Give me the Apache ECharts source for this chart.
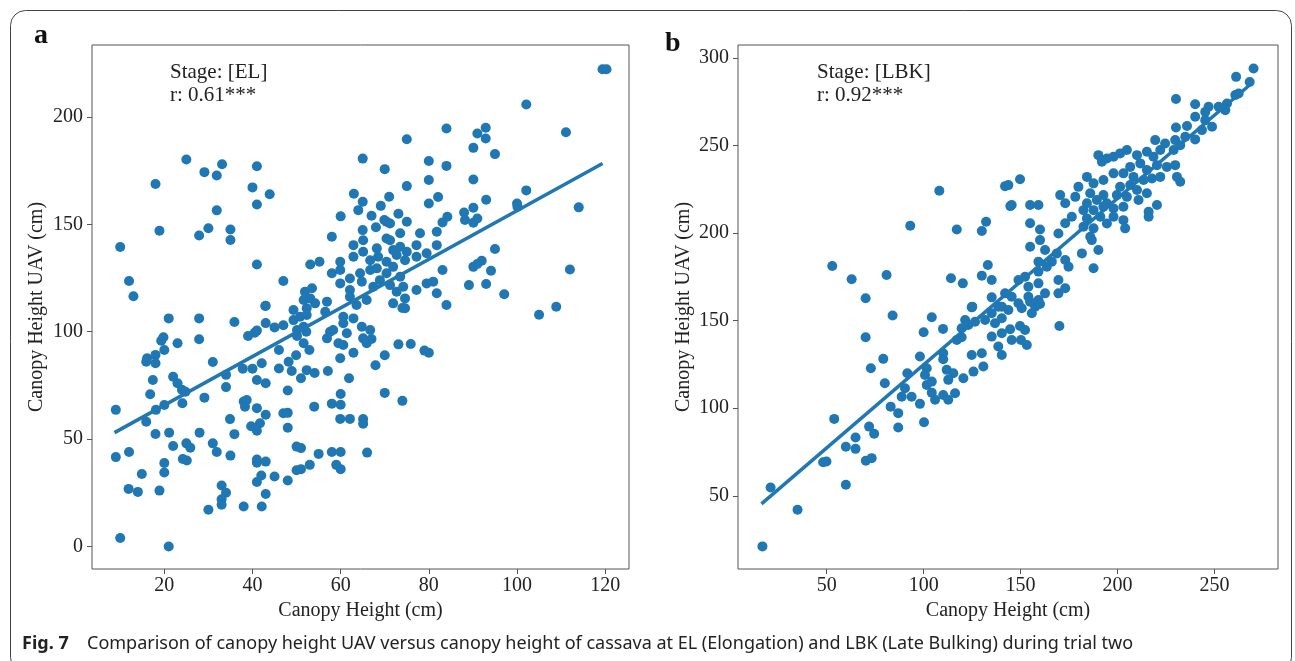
<!DOCTYPE html>
<html>
<head>
<meta charset="utf-8">
<script src="https://cdn.jsdelivr.net/npm/echarts@6.0.0/dist/echarts.min.js"></script>
<style>html,body{margin:0;padding:0;background:#fff}#c{width:1295px;height:661px}</style>
</head>
<body>
<div id="c"></div>
<script>
// ---- Data ----
const elPoints = [
[25.0,180.2],[29.1,174.3],[33.1,178.0],[31.9,172.7],[41.0,177.0],[18.0,168.8],[40.0,167.2],[43.9,164.0],[41.0,159.2],[31.9,156.5],[18.9,147.0],[27.9,144.8],[30.0,148.2],[35.0,147.6],[35.0,142.7],[10.0,139.4],[41.0,131.3],[12.0,123.6],[13.0,116.5],[47.0,123.6],[65.0,180.6],[63.0,164.2],[65.0,160.5],[64.0,156.6],[60.0,153.7],[43.0,112.1],
[119.4,222.2],[120.3,222.2],[102.1,205.8],[111.1,192.9],[84.0,194.6],[75.0,189.6],[91.0,192.3],[92.9,195.0],[92.9,190.0],[90.1,185.6],[95.0,182.7],[80.0,179.5],[84.0,177.2],[70.0,175.7],[80.0,170.6],[90.1,170.9],[75.0,167.8],[102.1,165.8],[71.0,162.8],[82.1,162.7],[80.0,159.7],[93.0,161.4],[100.0,159.7],[100.1,158.2],[114.0,157.9],[69.1,158.6],[73.1,154.9],[67.0,154.0],[69.9,152.0],[84.2,153.5],[83.1,150.9],[88.0,155.5],[90.1,157.7],[88.2,152.0],[90.1,150.7],[91.0,152.7],[95.0,138.5],[83.1,128.7],[90.1,130.2],[92.0,133.0],[91.0,131.5],[94.1,128.4],[112.0,129.0],[89.1,121.7],[93.0,122.2],[97.1,117.4],[84.0,112.4],[108.9,111.6],
[58.0,144.2],[53.1,131.3],[55.2,132.6],[65.0,147.3],[68.0,148.6],[70.4,151.2],[71.2,150.4],[73.5,145.8],[75.0,151.2],[78.0,145.8],[81.8,146.5],[62.9,140.3],[65.1,142.6],[68.2,138.8],[70.4,143.4],[71.2,142.6],[71.9,138.0],[73.5,139.5],[75.0,137.2],[77.2,140.3],[81.8,140.3],[59.9,132.6],[62.9,134.9],[65.1,137.2],[66.7,133.3],[68.5,134.9],[70.4,132.6],[72.7,135.7],[74.6,133.3],[77.2,134.9],[79.5,136.5],[58.0,127.2],[59.9,128.7],[62.1,124.8],[64.4,127.2],[66.7,128.7],[68.2,129.5],[70.4,127.2],[71.9,130.2],[73.5,125.6],[59.9,122.5],[62.1,119.4],[64.8,123.3],[67.4,120.9],[68.9,124.0],[71.2,121.7],[72.7,118.6],[74.2,120.9],[51.9,118.6],[53.5,120.2],[51.6,114.8],[53.1,115.5],[54.2,113.2],[52.3,110.9],[56.9,114.0],[56.5,109.3],[62.1,116.3],[63.6,112.4],[65.9,114.8],[71.9,113.2],[74.6,115.5],[74.6,110.9],[77.2,119.4],[79.5,122.5],[81.0,123.3],[81.8,117.9],[49.3,110.1],[50.8,107.0],[49.3,105.4],[51.6,102.3],[50.1,100.8],[60.6,107.0],[62.9,106.2],[58.3,100.8],[61.4,99.3],[64.8,102.3],[66.7,100.8],
[105.0,107.9],[74.0,111.0],[65.1,96.9],[67.0,96.6],[65.9,94.6],[73.1,94.1],[75.9,94.3],[79.0,91.2],[80.0,90.2],[70.0,89.0],[67.9,84.4],[70.0,71.5],[74.0,67.8],[65.1,59.3],[65.1,57.1],[66.0,43.7],
[42.9,112.0],[21.0,106.2],[27.9,106.2],[27.9,96.5],[35.9,104.5],[19.8,97.4],[19.3,95.8],[23.0,94.6],[20.0,91.5],[16.1,87.6],[15.9,86.0],[18.0,89.2],[18.0,85.3],[31.0,85.9],[39.0,98.0],[40.5,99.5],[41.0,100.5],[43.0,104.0],[45.0,102.0],[47.0,103.0],[52.3,107.8],[50.1,98.0],[52.2,100.0],[51.6,94.6],[46.0,91.5],[52.9,91.5],[49.9,89.0],[48.2,86.0],[46.0,82.9],[48.9,81.7],[51.0,78.3],[52.3,82.1],[54.1,80.8],[57.1,81.7],[56.9,96.9],[57.6,100.0],[59.5,94.6],[60.6,93.8],[59.9,87.6],[62.9,90.2],[60.6,103.9],
[37.8,82.8],[40.0,82.8],[42.1,85.3],[34.0,79.9],[41.0,77.5],[43.0,76.0],[34.0,74.2],[22.0,79.0],[23.0,76.0],[24.0,73.0],[24.8,72.0],[17.4,77.5],[16.8,70.9],[29.1,69.3],[24.1,66.7],[20.0,65.9],[18.1,63.6],[9.0,63.6],[15.9,58.1],[18.0,52.4],[21.1,53.0],[48.0,72.6],[38.0,67.5],[38.7,68.2],[38.3,65.1],[41.0,64.4],[43.0,61.3],[41.7,57.4],[34.9,59.3],[47.0,62.0],[48.0,62.2],[48.0,55.3],[39.7,56.0],[41.0,53.9],[35.9,52.3],[54.0,65.1],[58.0,66.5],[60.0,66.0],[60.0,71.0],[59.9,59.4],[62.1,59.4],[61.9,78.3],[28.0,53.0],[22.0,46.8],[25.0,48.0],[25.9,46.0],[24.2,40.7],[25.1,40.0],[31.0,48.0],[31.9,44.0],[35.0,42.3],[9.0,41.6],[12.0,44.0],[20.0,38.9],[20.0,34.4],[14.9,33.7],[11.9,26.8],[14.0,25.4],[18.9,26.0],[41.0,40.5],[41.0,39.0],[43.0,39.5],[42.0,33.0],[41.0,30.0],[45.0,32.6],[48.0,30.7],[50.0,46.5],[51.0,45.8],[55.0,43.1],[58.0,44.0],[60.0,44.0],[59.0,38.0],[60.0,36.0],[50.0,35.5],[51.0,36.0],[53.0,38.0],[33.0,28.4],[34.0,25.0],[33.0,22.0],[33.0,19.4],[30.0,17.1],[38.0,18.6],[42.1,18.6],[43.0,24.4],[10.0,3.9],[21.0,0.0]
];
const lbkPoints = [
[108.1,224.2],[142.0,226.8],[144.7,215.4],[93.1,204.2],[117.1,202.1],[130.0,201.2],[132.2,206.5],[52.9,181.2],[62.9,173.6],[80.9,176.1],[70.1,162.8],[114.1,174.2],[120.2,171.3],[130.0,175.7],[133.1,181.8],[135.1,173.2],[135.1,163.3],[142.0,165.6],[125.1,158.0],[140.3,158.0],
[270.1,294.0],[261.1,289.2],[268.1,286.3],[262.4,279.7],[260.7,278.8],[256.4,274.0],[255.5,270.2],[252.1,272.1],[230.1,276.6],[240.0,273.6],[246.9,272.1],[245.2,269.2],[240.0,266.4],[245.2,264.5],[248.7,260.7],[230.1,260.3],[235.8,261.1],[243.5,258.8],[240.0,253.5],[219.4,253.1],[224.5,251.2],[229.7,253.1],[234.9,255.0],
[179.8,226.4],[170.4,221.7],[173.0,217.0],[178.2,220.7],[143.7,227.4],[149.7,230.7],[145.4,216.0],[154.9,216.0],[159.2,216.0],[154.9,205.6],[160.0,202.1],[169.5,199.8],[173.0,205.6],[176.4,209.3],[154.9,192.2],[160.0,196.0],[162.6,190.3],[168.7,188.4],[166.1,183.7],[173.0,184.6],[174.7,180.8],[181.6,188.4],[186.7,196.0],[190.1,190.3],[187.6,179.9],[159.2,183.7],[163.5,180.8],[159.2,178.0],[148.9,173.2],[152.3,175.1],[154.0,169.4],[159.2,171.3],[162.6,165.6],[169.5,173.2],[173.0,168.5],[169.5,165.6],[145.4,163.7],[148.9,159.9],[154.0,163.7],[159.2,161.8],[157.5,158.0],
[190.1,244.5],[191.9,240.7],[194.5,242.6],[197.9,243.6],[201.3,245.5],[204.8,247.4],[232.3,250.2],[228.9,247.4],[210.0,244.5],[215.1,246.4],[218.5,243.6],[222.0,247.4],[206.5,237.8],[211.7,239.8],[215.1,236.0],[220.3,238.8],[225.4,237.8],[229.7,238.8],[197.9,234.1],[203.0,234.1],[208.2,232.1],[213.4,230.3],[217.7,231.2],[222.0,232.1],[230.6,232.1],[232.3,229.3],[184.2,232.1],[187.6,228.4],[192.7,230.3],[201.3,226.4],[206.5,227.4],[210.0,224.6],[215.1,222.7],[199.6,221.7],[204.8,220.7],[210.8,218.9],[185.9,222.7],[192.7,221.7],[189.3,218.9],[184.2,217.0],[194.5,217.0],[220.3,216.0],[216.0,212.2],[216.0,209.3],[182.4,213.1],[187.6,213.1],[192.7,215.0],[197.9,214.1],[203.0,215.0],[184.2,208.4],[191.1,209.3],[197.9,209.3],[203.0,207.4],[194.5,205.5],[182.4,203.6],[187.6,202.7],[203.9,202.7],[185.9,197.9],
[84.0,152.9],[104.2,151.9],[70.1,140.5],[100.0,143.4],[110.0,145.3],[124.8,157.6],[121.4,150.4],[123.0,147.5],[119.6,145.7],[126.5,149.4],[131.7,150.4],[135.1,154.2],[138.5,158.0],[136.8,148.5],[140.3,151.4],[143.7,156.1],[117.1,139.0],[119.6,140.5],[135.1,140.9],[140.3,142.8],[145.4,139.0],[138.5,135.2],[140.3,130.4],[79.2,128.2],[72.8,122.8],[80.0,114.3],[98.1,129.5],[110.1,131.4],[110.1,128.0],[91.6,120.0],[101.6,122.8],[100.7,119.0],[104.2,115.2],[101.6,113.3],[111.9,121.9],[115.3,120.0],[112.7,116.2],[120.5,117.1],[125.7,120.9],[130.8,123.8],[130.0,131.4],[124.8,130.4],[90.4,111.4],[88.7,106.6],[93.8,106.6],[104.2,108.9],[105.9,104.8],[110.1,107.6],[112.7,104.8],[116.2,108.6],[98.1,102.5],[83.0,100.9],[86.9,97.2],[86.9,89.0],[100.2,92.0],[53.9,93.9],[71.9,89.5],[74.5,85.4],[64.9,83.3],[64.9,76.8],[59.9,78.0],[48.2,69.2],[49.9,69.6],[70.2,70.0],[73.2,71.5],[59.9,56.3],[21.1,54.7],[35.0,42.0],[16.9,21.1],
[170.0,147.0],[144.6,145.1],[149.7,147.0],[152.3,144.7],[150.2,139.0],[153.2,136.1],[150.6,157.1],[155.8,154.2],[160.0,159.5],[154.9,160.8]
];
const elFit = [[8.7,53.0],[119.4,178.3]];
const lbkFit = [[16.4,45.4],[269.0,285.4]];
const elTicksX = [20,40,60,80,100,120];
const elTicksY = [0,50,100,150,200];
const lbkTicksX = [50,100,150,200,250];
const lbkTicksY = [50,100,150,200,250,300];
const panelText = ['Stage: [EL]\nr: 0.61***', 'Stage: [LBK]\nr: 0.92***'];
const axisNameX = 'Canopy Height (cm)';
const axisNameY = 'Canopy Height UAV (cm)';
const captionBold = 'Fig. 7';
const captionText = 'Comparison of canopy height UAV versus canopy height of cassava at EL (Elongation) and LBK (Late Bulking) during trial two';

// ---- Chart ----
const serif = '"Liberation Serif", "Times New Roman", serif';
const blue = '#1f77b4';
const axisGray = '#555';

function xAxisCfg(grid, min, max, ticks) {
  return {
    gridIndex: grid, type: 'value', min: min, max: max,
    splitLine: { show: false },
    axisLine: { show: false, onZero: false },
    axisTick: { show: true, inside: false, length: 5, customValues: ticks, lineStyle: { color: axisGray, width: 1 } },
    axisLabel: { customValues: ticks, fontFamily: serif, fontSize: 20, color: '#222', margin: 7 },
    name: axisNameX, nameLocation: 'middle', nameGap: 29,
    nameTextStyle: { fontFamily: serif, fontSize: 20, color: '#222' }
  };
}
function yAxisCfg(grid, min, max, ticks, gap) {
  return {
    gridIndex: grid, type: 'value', min: min, max: max,
    splitLine: { show: false },
    axisLine: { show: false, onZero: false },
    axisTick: { show: true, inside: false, length: 5, customValues: ticks, lineStyle: { color: axisGray, width: 1 } },
    axisLabel: { customValues: ticks, fontFamily: serif, fontSize: 20, color: '#222', margin: 9 },
    name: axisNameY, nameLocation: 'middle', nameGap: gap, nameRotate: 90,
    nameTextStyle: { fontFamily: serif, fontSize: 20, color: '#222' }
  };
}

const chart = echarts.init(document.getElementById('c'), null, { renderer: 'canvas' });
chart.setOption({
  animation: false,
  backgroundColor: '#fff',
  grid: [
    { left: 92, top: 45, width: 537, height: 524, show: true, borderColor: axisGray, borderWidth: 1, backgroundColor: 'transparent' },
    { left: 738, top: 45, width: 540, height: 524, show: true, borderColor: axisGray, borderWidth: 1, backgroundColor: 'transparent' }
  ],
  xAxis: [ xAxisCfg(0, 3.6, 125.4, elTicksX), xAxisCfg(1, 4.3, 282.7, lbkTicksX) ],
  yAxis: [ yAxisCfg(0, -10.5, 233.5, elTicksY, 45), yAxisCfg(1, 8.2, 307.4, lbkTicksY, 44) ],
  series: [
    { type: 'scatter', xAxisIndex: 0, yAxisIndex: 0, data: elPoints, symbolSize: 10, itemStyle: { color: blue, opacity: 1 }, z: 2 },
    { type: 'line', xAxisIndex: 0, yAxisIndex: 0, data: elFit, showSymbol: false, lineStyle: { color: blue, width: 3.5 }, z: 3 },
    { type: 'scatter', xAxisIndex: 1, yAxisIndex: 1, data: lbkPoints, symbolSize: 10, itemStyle: { color: blue, opacity: 1 }, z: 2 },
    { type: 'line', xAxisIndex: 1, yAxisIndex: 1, data: lbkFit, showSymbol: false, lineStyle: { color: blue, width: 3.5 }, z: 3 }
  ],
  graphic: [
    { type: 'rect', shape: { x: 10.5, y: 10.5, width: 1281, height: 662, r: 15 }, style: { fill: 'none', stroke: '#444', lineWidth: 1 }, z: -10, silent: true },
    { type: 'text', x: 34, y: 22, style: { text: 'a', fontFamily: serif, fontWeight: 'bold', fontSize: 28, fill: '#111' } },
    { type: 'text', x: 665, y: 30, style: { text: 'b', fontFamily: serif, fontWeight: 'bold', fontSize: 28, fill: '#111' } },
    { type: 'text', x: 170, y: 61, style: { text: panelText[0], fontFamily: serif, fontSize: 21, lineHeight: 23, fill: '#222' } },
    { type: 'text', x: 817, y: 61, style: { text: panelText[1], fontFamily: serif, fontSize: 21, lineHeight: 23, fill: '#222' } },
    { type: 'text', x: 22, y: 644, style: { text: captionBold, fontFamily: '"Noto Sans", sans-serif', fontWeight: 'bold', fontSize: 18, fill: '#222', verticalAlign: 'middle' } },
    { type: 'text', x: 87, y: 644, style: { text: captionText, fontFamily: '"Noto Sans", sans-serif', fontSize: 18, fill: '#222', verticalAlign: 'middle' } }
  ]
});
</script>
</body>
</html>
